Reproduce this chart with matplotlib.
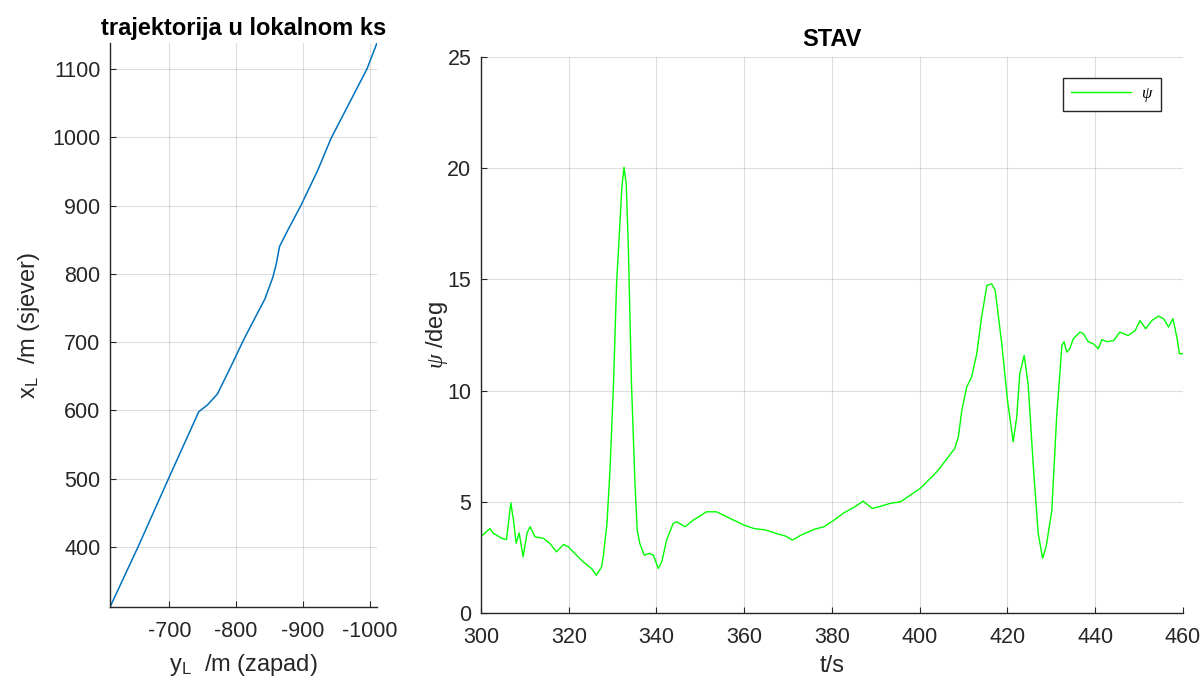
import matplotlib
matplotlib.use('Agg')
import matplotlib.pyplot as plt

# trajectory in local frame (y_L east-west, x_L north)
traj_y = [-611, -653, -700, -744, -757, -772, -794, -811, -828, -843, -855,
          -860, -865, -878, -897, -922, -942, -969, -996, -1011]
traj_x = [312, 400, 503, 598, 608, 624, 668, 703, 735, 763, 795,
          814, 840, 865, 900, 951, 998, 1049, 1100, 1138]

# heading psi over time
t = [300, 302, 302.7, 304.7, 305.8, 306.8, 307.4, 308, 308.7, 309.6, 310.5,
     311.2, 312.3, 314.2, 315.7, 317.2, 318.8, 319.9, 321.0, 323.3, 325.2,
     326.3, 327.5, 327.9, 328.7, 329.4, 330.2, 330.9, 331.7, 332.1, 332.6,
     333.1, 333.6, 334.3, 335.1, 335.6, 336.2, 337.2, 338.4, 339.3, 340.4,
     341.2, 342.3, 343.8, 344.6, 346.5, 348.4, 351.4, 353.7, 356.8, 360,
     362.2, 364.9, 367.2, 369.4, 371.0, 372.9, 375.9, 378.2, 380.5, 382.7,
     385.4, 387.1, 389.2, 391.1, 393.3, 395.6, 400.1, 403.9, 408.0, 408.8,
     409.6, 410.7, 411.8, 413.0, 414.1, 415.3, 416.4, 417.2, 418.7, 420.0,
     421.3, 422.1, 422.8, 423.8, 424.7, 425.9, 427.0, 428.0, 428.8, 430.1,
     431.2, 432.4, 432.9, 433.5, 434.2, 435.0, 436.5, 437.3, 438.4, 439.6,
     440.7, 441.5, 442.6, 444.2, 445.6, 447.5, 449.1, 450.2, 451.5, 452.9,
     454.4, 455.6, 456.7, 457.7, 458.6, 459.2, 460]
psi = [3.43, 3.8, 3.6, 3.36, 3.3, 4.95, 4.18, 3.14, 3.6, 2.53, 3.6,
       3.88, 3.43, 3.36, 3.13, 2.75, 3.08, 2.98, 2.75, 2.3, 2.0,
       1.7, 2.08, 2.6, 4.0, 6.42, 10.3, 14.8, 17.65, 19.14, 20.04,
       19.3, 16.3, 10.3, 5.82, 3.73, 3.13, 2.6, 2.68, 2.6, 2.0,
       2.3, 3.28, 4.03, 4.1, 3.88, 4.18, 4.55, 4.55, 4.25, 3.95,
       3.8, 3.73, 3.58, 3.46, 3.28, 3.5, 3.76, 3.88, 4.18, 4.5,
       4.8, 5.03, 4.7, 4.8, 4.93, 5.0, 5.6, 6.35, 7.4, 7.92,
       9.12, 10.16, 10.6, 11.66, 13.3, 14.73, 14.8, 14.5, 12.1, 9.56,
       7.7, 8.8, 10.76, 11.58, 10.3, 6.57, 3.58, 2.46, 2.98, 4.6,
       8.8, 12.03, 12.2, 11.73, 11.88, 12.33, 12.63, 12.56, 12.2, 12.1,
       11.88, 12.29, 12.2, 12.25, 12.63, 12.48, 12.7, 13.15, 12.78, 13.15,
       13.35, 13.23, 12.86, 13.23, 12.4, 11.66, 11.66]

plt.rcParams['font.family'] = ['Liberation Sans', 'DejaVu Sans']
plt.rcParams['axes.unicode_minus'] = False
plt.rcParams['mathtext.fontset'] = 'custom'
plt.rcParams['mathtext.rm'] = 'Liberation Sans'
plt.rcParams['mathtext.it'] = 'Liberation Serif:italic'
dark = '#262626'
tick_fs = 15.5
label_fs = 17


def matlab_style(ax):
    ax.grid(True, color='#262626', alpha=0.15, linewidth=0.8)
    ax.set_axisbelow(True)
    for s in ['top', 'right']:
        ax.spines[s].set_visible(False)
    for s in ['left', 'bottom']:
        ax.spines[s].set_color(dark)
        ax.spines[s].set_linewidth(1.0)
    ax.tick_params(direction='in', length=4, color=dark, labelcolor=dark,
                   labelsize=tick_fs)
    ax.tick_params(axis='x', pad=10)
    ax.tick_params(axis='y', pad=7)


fig = plt.figure(figsize=(12.01, 6.79), dpi=100)

ax1 = fig.add_axes([0.0916, 0.106, 0.2223, 0.8307])
ax1.plot(traj_y, traj_x, color='#0072BD', linewidth=1.1)
ax1.set_xlim(-611, -1011)
ax1.set_ylim(312, 1138)
ax1.set_xticks([-700, -800, -900, -1000])
ax1.set_yticks([400, 500, 600, 700, 800, 900, 1000, 1100])
matlab_style(ax1)
ax1.set_title('trajektorija u lokalnom ks', fontsize=label_fs, fontweight='bold',
              color='black', pad=6)
ax1.set_xlabel('$\\mathregular{y_L}$  /m (zapad)', fontsize=label_fs,
               color=dark, labelpad=7)
ax1.set_ylabel('$\\mathregular{x_L}$  /m (sjever)', fontsize=label_fs,
               color=dark, labelpad=7)

ax2 = fig.add_axes([0.4005, 0.0972, 0.5845, 0.8188])
ax2.plot(t, psi, color='#00FF00', linewidth=1.0, label='$\\it{\\psi}$')
ax2.set_xlim(300, 460)
ax2.set_ylim(0, 25)
ax2.set_xticks(range(300, 461, 20))
ax2.set_yticks([0, 5, 10, 15, 20, 25])
matlab_style(ax2)
ax2.set_title('STAV', fontsize=label_fs, fontweight='bold', color='black', pad=8)
ax2.set_xlabel('t/s', fontsize=label_fs, color=dark, labelpad=5)
ax2.set_ylabel('$\\it{\\psi}$ /deg', fontsize=label_fs, color=dark, labelpad=-2)
leg = ax2.legend(loc='upper right', bbox_to_anchor=(0.9687, 0.962),
                 borderaxespad=0, fontsize=12, fancybox=False, framealpha=1,
                 edgecolor=dark, handlelength=3.6, handletextpad=0.6,
                 borderpad=0.45)
leg.get_frame().set_linewidth(1.0)

fig.savefig('out.png', dpi=100)
